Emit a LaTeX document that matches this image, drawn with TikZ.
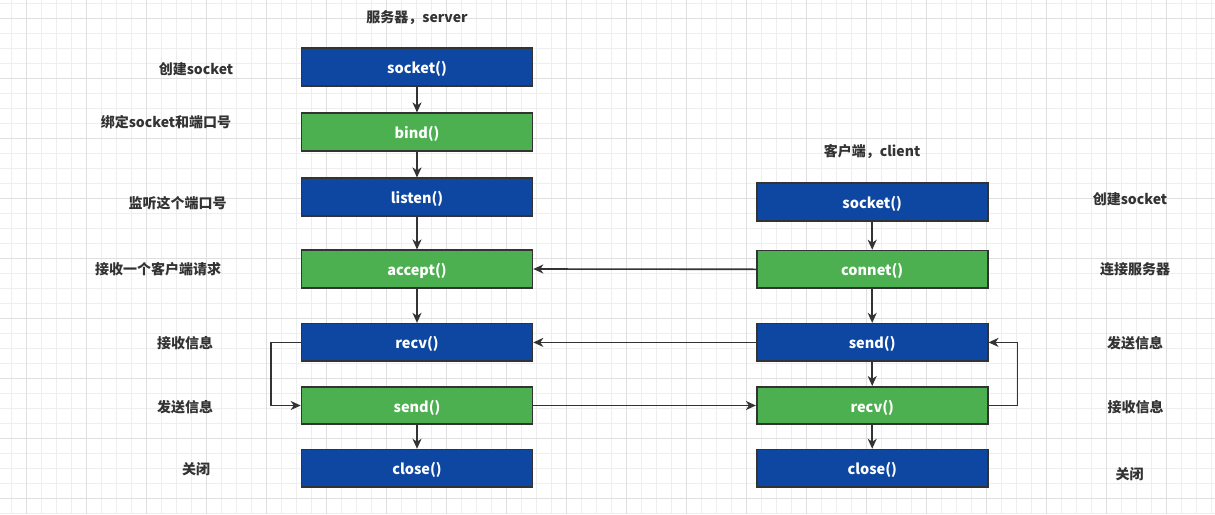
\documentclass[tikz,border=0pt]{standalone}
\usepackage{fontspec}
\setmainfont{Noto Sans CJK SC}
\usetikzlibrary{arrows.meta}
\definecolor{boxblue}{HTML}{0D47A1}
\definecolor{boxgreen}{HTML}{4CAF50}
\definecolor{edge}{HTML}{333333}
\definecolor{gridminor}{HTML}{EEEEEE}
\definecolor{gridmajor}{HTML}{DFDFDF}
\begin{document}
\begin{tikzpicture}[x=1pt,y=-1pt,
  fnbox/.style={draw=edge, line width=1.6pt, minimum width=231pt, minimum height=37.5pt,
    inner sep=0pt, text=white, text height=16pt, text depth=3pt,
    font=\fontsize{14.5}{16}\selectfont\bfseries},
  bluebox/.style={fnbox, fill=boxblue},
  greenbox/.style={fnbox, fill=boxgreen},
  lbl/.style={text=edge, inner sep=0pt, font=\fontsize{14}{16}\selectfont\bfseries},
  arr/.style={draw=edge, line width=1.6pt, -{Stealth[length=10pt,width=9pt,inset=3pt]}}]
\useasboundingbox (0,0) rectangle (1215,514);
\fill[white] (0,0) rectangle (1215,514);
% grid
\foreach \i in {0,...,80} \draw[gridminor, line width=1pt] (11.7+15*\i,0) -- (11.7+15*\i,514);
\foreach \i in {0,...,34} \draw[gridminor, line width=1pt] (0,3.3+15*\i) -- (1215,3.3+15*\i);
\foreach \i in {0,...,20} \draw[gridmajor, line width=1pt] (26.7+60*\i,0) -- (26.7+60*\i,514);
\foreach \i in {0,...,8} \draw[gridmajor, line width=1pt] (0,18.3+60*\i) -- (1215,18.3+60*\i);

% titles
\node[lbl] (tserver) at (417,18) {服务器，server};
\node[lbl] (tclient) at (872,152) {客户端，client};

% server column
\node[bluebox]  (ssock)   at (417,67)    {socket()};
\node[greenbox] (sbind)   at (417,132)   {bind()};
\node[bluebox]  (slisten) at (417,197)   {listen()};
\node[greenbox] (sacc)    at (417,269)   {accept()};
\node[bluebox]  (srecv)   at (417,342.4) {recv()};
\node[greenbox] (ssend)   at (417,405.5) {send()};
\node[bluebox]  (sclose)  at (417,468.3) {close()};

% client column
\node[bluebox]  (csock)   at (872.2,202)   {socket()};
\node[greenbox] (cconn)   at (872.2,269.3) {connet()};
\node[bluebox]  (csend)   at (872.2,342.4) {send()};
\node[greenbox] (crecv)   at (872.2,405.5) {recv()};
\node[bluebox]  (cclose)  at (872.2,468.3) {close()};

% left labels
\node[lbl] (l1) at (196,69)    {创建socket};
\node[lbl] (l2) at (166,122)   {绑定socket和端口号};
\node[lbl] (l3) at (177.5,203) {监听这个端口号};
\node[lbl] (l4) at (158,269)   {接收一个客户端请求};
\node[lbl] (l5) at (185,343)   {接收信息};
\node[lbl] (l6) at (185,407)   {发送信息};
\node[lbl] (l7) at (196,469)   {关闭};

% right labels
\node[lbl] (r1) at (1130,199)  {创建socket};
\node[lbl] (r2) at (1135,269)  {连接服务器};
\node[lbl] (r3) at (1135,343)  {发送信息};
\node[lbl] (r4) at (1135.5,407){接收信息};
\node[lbl] (r5) at (1129.5,474){关闭};

% server arrows
\draw[arr] (ssock) -- (sbind);
\draw[arr] (sbind) -- (slisten);
\draw[arr] (slisten) -- (sacc);
\draw[arr] (sacc) -- (srecv);
\draw[arr] (srecv.west) -- ++(-30,0) |- (ssend.west);
\draw[arr] (ssend) -- (sclose);

% client arrows
\draw[arr] (csock) -- (cconn);
\draw[arr] (cconn) -- (csend);
\draw[arr] (csend) -- (crecv);
\draw[arr] (crecv) -- (cclose);
\draw[arr] (crecv.east) -- ++(29,0) |- (csend.east);

% cross arrows
\draw[arr] (cconn.west) -- (sacc.east);
\draw[arr] (csend.west) -- (srecv.east);
\draw[arr] (ssend.east) -- (crecv.west);
\end{tikzpicture}
\end{document}
